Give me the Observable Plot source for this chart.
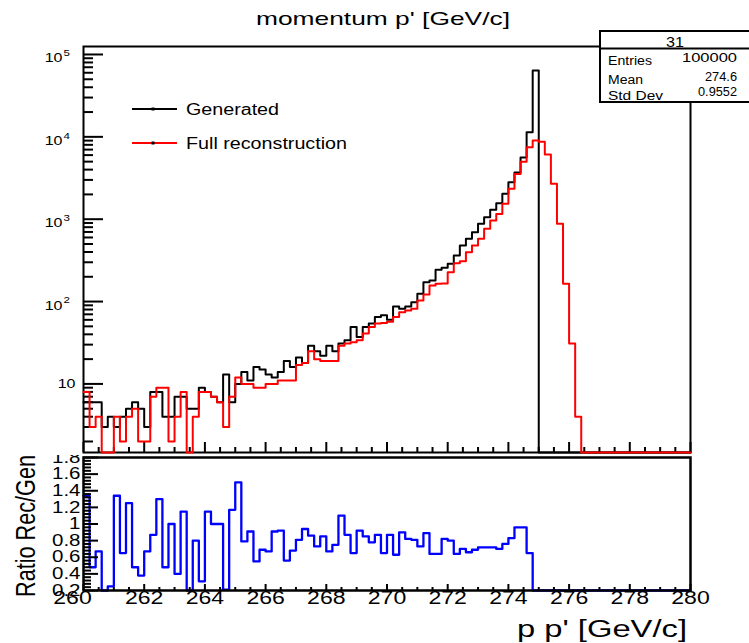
<!DOCTYPE html>
<html><head><meta charset="utf-8">
<script src="https://cdn.jsdelivr.net/npm/d3@7"></script>
<script src="https://cdn.jsdelivr.net/npm/@observablehq/plot@0.6"></script>
<style>
body{margin:0;background:#fff;}
#wrap{position:relative;width:749px;height:643px;overflow:hidden;background:#fff;}
#wrap svg{position:absolute;left:0;}
</style></head><body><div id="wrap"></div>
<script>
// ---------- data ----------
const binLow = 260;
const binWidth = 0.2;
const generated = [
  6,6,6,3,4,3,4,5,6,5,
  3,8,8,4,4,7,7,5,5,9,
  8,7,6,13,6,10,14,11,16,15,
  13,12,14,19,16,21,18,29,25,22,
  29,25,31,34,49,37,49,54,65,68,
  60,87,82,87,98,124,172,180,243,257,
  287,363,479,578,695,879,1058,1300,1563,2040,
  2800,3700,5600,11400,64000,0,0,0,0,0,
  0,0,0,0,0,0,0,0,0,0,
  0,0,0,0,0,0,0,0,0,0];
const reconstructed = [
  8,3,4,1,1,4,2,4,5,2,
  2,7,9,9,2,4,8,1,4,8,
  8,7,6,3,7,12,10,10,9,9,
  10,10,11,11,11,17,18,25,20,19,
  19,19,29,31,32,34,41,49,54,55,
  57,65,74,78,82,103,122,157,164,166,
  227,292,309,397,479,578,764,964,1160,1540,
  2340,3550,5000,7500,9000,8700,6100,2690,880,164,
  31,4,0,0,0,0,0,0,0,0,
  0,0,0,0,0,0,0,0,0,0];
const ratio = [
  1.34,0.48,0.67,0,0.25,1.34,0.65,1.25,0.48,0.38,
  0.67,0.87,1.30,0.48,1.0,0.40,1.15,0,0.80,0.31,
  1.15,1.0,1.0,0.21,1.17,1.50,0.79,0.91,0.55,0.69,
  0.67,0.91,0.92,0.56,0.68,0.81,0.94,0.86,0.73,0.85,
  0.67,0.75,1.10,0.87,0.65,0.92,0.85,0.78,0.87,0.65,
  0.87,0.63,0.90,0.82,0.81,0.73,0.89,0.64,0.64,0.82,
  0.80,0.64,0.70,0.66,0.69,0.72,0.72,0.72,0.70,0.76,
  0.83,0.96,0.96,0.65,0,0,0,0,0,0,
  0,0,0,0,0,0,0,0,0,0,
  0,0,0,0,0,0,0,0,0,0];
const xMajorTicks = [260,262,264,266,268,270,272,274,276,278,280];
const yDecades = [10,100,1000,10000,100000];
const ratioTicks = [0.2,0.4,0.6,0.8,1.0,1.2,1.4,1.6,1.8];
const titleText = "momentum p' [GeV/c]";
const xTitle = "p p' [GeV/c]";
const yTitleRatio = "Ratio Rec/Gen";
const legendLabels = ["Generated","Full reconstruction"];
const legendColors = ["#000000","#ff0000"];
const statsName = "31";
const statsLabels = ["Entries","Mean","Std Dev"];
const statsValues = ["100000","274.6","0.9552"];

// ---------- helpers ----------
const FONT = "Liberation Sans, Arial, Helvetica, sans-serif";
const yMin = 1.47, yMax = 1.25e5;
function steps(vals){
  const pts = vals.map((v,i)=>({x: binLow + i*binWidth, v}));
  pts.push({x: binLow + vals.length*binWidth, v: vals[vals.length-1]});
  return pts;
}
const xMinor = d3.range(260, 280.001, 0.5).filter(v => Math.abs(v/2 - Math.round(v/2)) > 1e-6);
const yMinorLog = [];
for (let k = 0; k <= 4; k++) for (let m = 2; m <= 9; m++) { const v = m*Math.pow(10,k); if (v > yMin && v < yMax) yMinorLog.push(v); }
const ratioMinor = d3.range(0.2, 1.8001, 0.04).filter(v => Math.abs(v/0.2 - Math.round(v/0.2)) > 1e-3);

const wrap = document.getElementById("wrap");

// ---------- top panel ----------
const topFrameW = 749 - 83 - 59;
const topFrameH = 455 - 46 - 3;
const topPlot = Plot.plot({
  width: 749, height: 455,
  marginLeft: 83, marginRight: 59, marginTop: 46, marginBottom: 3,
  style: {fontFamily: FONT, fontSize: "12px", overflow: "hidden", background: "transparent"},
  x: {domain: [260, 280], axis: null},
  y: {type: "log", domain: [yMin, yMax], axis: null, clamp: true},
  marks: [
    Plot.frame({stroke: "black", strokeWidth: 2}),
    Plot.tickY(yMinorLog, {y: d => d, insetRight: topFrameW - 10, stroke: "black", strokeWidth: 2}),
    Plot.tickY(yDecades, {y: d => d, insetRight: topFrameW - 20, stroke: "black", strokeWidth: 2}),
    Plot.tickX(xMinor, {x: d => d, insetTop: topFrameH - 5, stroke: "black", strokeWidth: 2}),
    Plot.tickX(xMajorTicks, {x: d => d, insetTop: topFrameH - 10, stroke: "black", strokeWidth: 2}),
    Plot.text(yDecades.filter(d => d > 10), {y: d => d, frameAnchor: "left", text: () => "10", textAnchor: "end", dx: -21, dy: 4, fontSize: 12.5}),
    Plot.text(yDecades.filter(d => d > 10), {y: d => d, frameAnchor: "left", text: d => String(Math.round(Math.log10(d))), textAnchor: "start", dx: -20, dy: -1, fontSize: 9}),
    Plot.text([10], {y: d => d, frameAnchor: "left", text: () => "10", textAnchor: "end", dx: -8, dy: 0, fontSize: 12.5}),
    Plot.line(steps(generated), {x: "x", y: d => Math.max(d.v, yMin), curve: "step-after", stroke: "black", strokeWidth: 2}),
    Plot.line(steps(reconstructed), {x: "x", y: d => Math.max(d.v, yMin), curve: "step-after", stroke: "#ff0000", strokeWidth: 2})
  ]
});
topPlot.style.top = "0px";
wrap.appendChild(topPlot);

// ---------- bottom panel ----------
const botFrameW = 749 - 83 - 59;
const botFrameH = 188 - 2 - 53;
const botPlot = Plot.plot({
  width: 749, height: 188,
  marginLeft: 83, marginRight: 59, marginTop: 2, marginBottom: 53,
  style: {fontFamily: FONT, fontSize: "16px", overflow: "hidden", background: "transparent"},
  x: {domain: [260, 280], axis: null},
  y: {domain: [0.2, 1.8], axis: null, clamp: true},
  marks: [
    Plot.line(steps(ratio), {x: "x", y: d => Math.max(d.v, 0.2), curve: "step-after", stroke: "#0000ff", strokeWidth: 2.3}),
    Plot.frame({stroke: "black", strokeWidth: 2.5}),
    Plot.tickY(ratioMinor, {y: d => d, insetRight: botFrameW - 8, stroke: "black", strokeWidth: 2}),
    Plot.tickY(ratioTicks, {y: d => d, insetRight: botFrameW - 15, stroke: "black", strokeWidth: 2}),
    Plot.tickX(xMinor, {x: d => d, insetTop: botFrameH - 3, stroke: "black", strokeWidth: 2}),
    Plot.tickX(xMajorTicks, {x: d => d, insetTop: botFrameH - 6, stroke: "black", strokeWidth: 2}),
    Plot.text(ratioTicks, {y: d => d, frameAnchor: "left", textAnchor: "end", dx: -3, text: d => String(+d.toFixed(1)), fontSize: 16}),
    Plot.text(xMajorTicks.slice(1), {x: d => d, frameAnchor: "bottom", dy: 13, text: d => String(d), fontSize: 18}),
    Plot.text(xMajorTicks.slice(0, 1), {x: d => d, frameAnchor: "bottom", dy: 13, dx: -11, text: d => String(d), fontSize: 18})
  ]
});
botPlot.style.top = "455px";
wrap.appendChild(botPlot);

// horizontal stretch of the reference's text
function stretch(root, k){
  root.querySelectorAll("text").forEach(t => {
    const L = t.getComputedTextLength();
    if (L > 0) { t.setAttribute("textLength", (L*k).toFixed(2)); t.setAttribute("lengthAdjust", "spacingAndGlyphs"); }
  });
}
stretch(topPlot, 1.28);
stretch(botPlot, 1.28);

// ---------- overlay: title, legend, stats box, axis titles ----------
const ov = d3.select(wrap).append("svg")
  .attr("width", 749).attr("height", 643)
  .style("top", "0px").style("font-family", FONT).style("pointer-events", "none");

function txt(g, s, x, y, size, len, anchor){
  return g.append("text").attr("x", x).attr("y", y).attr("font-size", size)
    .attr("text-anchor", anchor || "start").attr("textLength", len)
    .attr("lengthAdjust", "spacingAndGlyphs").attr("fill", "black").text(s);
}
txt(ov, titleText, 383, 25, 19, 254, "middle");

// legend
const legY = [109, 143];
const legLen = [93, 161];
legendLabels.forEach((lab, i) => {
  ov.append("line").attr("x1", 132).attr("x2", 177).attr("y1", legY[i]).attr("y2", legY[i])
    .attr("stroke", legendColors[i]).attr("stroke-width", 2);
  ov.append("rect").attr("x", 151.5).attr("y", legY[i] - 1.5).attr("width", 3).attr("height", 3).attr("fill", "#000");
  txt(ov, lab, 186, legY[i] + 6, 16, legLen[i], "start");
});

// stats box
ov.append("rect").attr("x", 600).attr("y", 31).attr("width", 170).attr("height", 71)
  .attr("fill", "white").attr("stroke", "black").attr("stroke-width", 2);
ov.append("line").attr("x1", 600).attr("x2", 749).attr("y1", 48.5).attr("y2", 48.5)
  .attr("stroke", "black").attr("stroke-width", 2);
txt(ov, statsName, 675, 47, 14, 18, "middle");
const sLabY = [65, 84, 100];
const sValY = [62, 81, 96];
const sLabLen = [44, 35, 55];
const sValLen = [55, 32, 39];
statsLabels.forEach((s, i) => {
  txt(ov, s, 608, sLabY[i], 12.5, sLabLen[i], "start");
  txt(ov, statsValues[i], 737, sValY[i], 12.5, sValLen[i], "end");
});

// axis titles
txt(ov, xTitle, 687, 637, 23.5, 170, "end");
ov.append("text").attr("transform", "translate(35,526) rotate(-90)")
  .attr("text-anchor", "middle").attr("font-size", 27.5).attr("textLength", 142)
  .attr("lengthAdjust", "spacingAndGlyphs").attr("fill", "black").text(yTitleRatio);
</script></body></html>
